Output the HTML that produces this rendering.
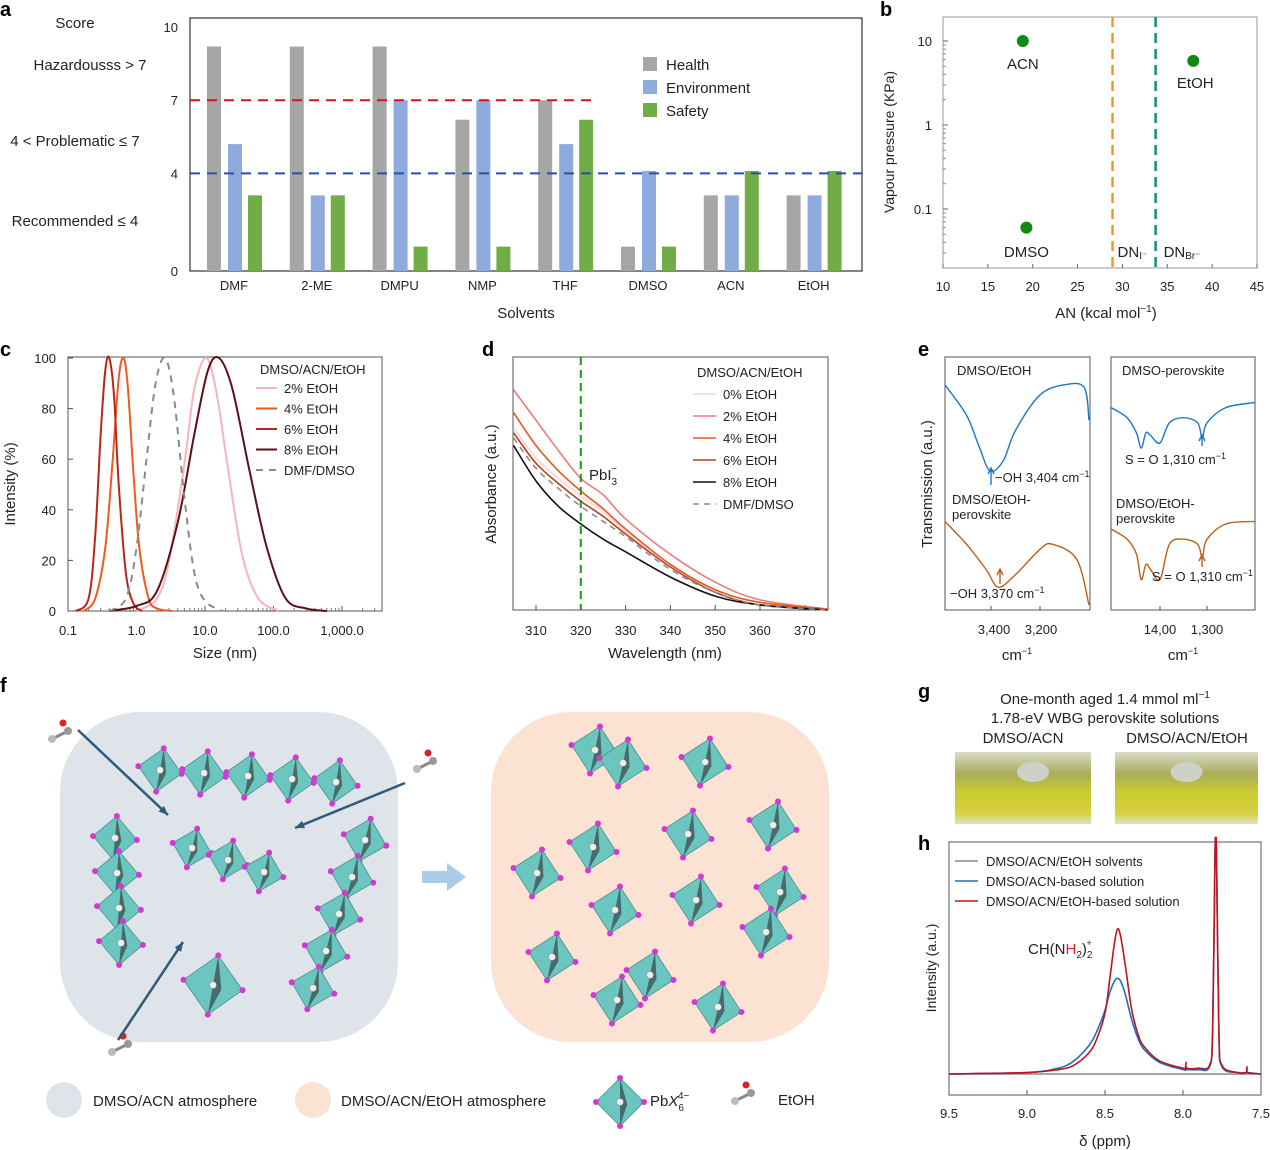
<!DOCTYPE html>
<html><head><meta charset="utf-8"><style>
body{margin:0;background:#fff;}
svg{display:block;font-family:"Liberation Sans",sans-serif;}
text{fill:#222;}
</style></head><body>
<svg id="fig" width="1270" height="1150" viewBox="0 0 1270 1150" xmlns="http://www.w3.org/2000/svg">
<g id="pa"></g>
<g id="pb"></g>
<g id="pc"></g>
<g id="pd"></g>
<g id="pe"></g>
<g id="pf"></g>
<g id="pg"></g>
<g id="ph"></g>
</svg>
<script>
// ---------- data ----------
const solvents=["DMF","2-ME","DMPU","NMP","THF","DMSO","ACN","EtOH"];
const healthScores=[9.2,9.2,9.2,6.2,7,1,3.1,3.1];
const envScores=[5.2,3.1,7,7,5.2,4.1,3.1,3.1];
const safetyScores=[3.1,3.1,1,1,6.2,1,4.1,4.1];
const scoreTicks=[0,4,7,10];

const bNames=["ACN","EtOH","DMSO"];
const bAN=[18.9,37.9,19.3];
const bVP=[10,5.8,0.06];
const bDN=[28.9,33.7];
const bXTicks=[10,15,20,25,30,35,40,45];
const bYTicks=[0.1,1,10];

const cSeriesNames=["2% EtOH","4% EtOH","6% EtOH","8% EtOH","DMF/DMSO"];
const cSize2=[1,2,3,5,7,10.5,15,22,35,60,120];
const cInt2=[0,5,20,58,88,100,85,55,22,5,0];
const cSize4=[0.17,0.25,0.35,0.45,0.55,0.65,0.75,0.9,1.1,1.5,2,3.3];
const cInt4=[0,5,25,60,92,100,88,55,25,5,1,0];
const cSize6=[0.13,0.2,0.25,0.3,0.35,0.4,0.47,0.55,0.7,0.9,1.2];
const cInt6=[0,5,30,70,95,100,85,50,15,3,0];
const cSize8=[0.4,1,2,4,7,11,16,25,45,80,150,300,600];
const cInt8=[0,2,8,35,70,95,100,88,55,25,5,1,0];
const cSizeD=[0.4,0.7,1,1.4,1.9,2.6,3.5,5,7,10,18];
const cIntD=[0,5,25,60,90,100,85,45,15,4,0];
const cXTicks=[0.1,1,10,100,1000];
const cXLabels=["0.1","1.0","10.0","100.0","1,000.0"];
const cYTicks=[0,20,40,60,80,100];

const dWave=[305,310,315,320,325,330,340,350,360,375];
const dAbs0=[0.72,0.60,0.52,0.45,0.39,0.31,0.18,0.08,0.03,0.003];
const dAbs2=[0.87,0.75,0.63,0.52,0.455,0.36,0.22,0.11,0.04,0.004];
const dAbs4=[0.78,0.65,0.55,0.47,0.40,0.32,0.18,0.08,0.03,0.003];
const dAbs6=[0.70,0.58,0.50,0.43,0.37,0.30,0.17,0.07,0.02,0.0];
const dAbs8=[0.65,0.51,0.41,0.34,0.28,0.23,0.13,0.055,0.02,0.0];
const dAbsD=[0.68,0.56,0.48,0.41,0.35,0.29,0.16,0.07,0.02,0.0];
const dXTicks=[310,320,330,340,350,360,370];

const eWaveL=[3588,3500,3450,3404,3350,3300,3200,3100,3020,3000];
const eTransL1=[0.89,0.77,0.65,0.55,0.59,0.71,0.85,0.89,0.88,0.75];
const eWaveL2=[3588,3500,3420,3370,3300,3200,3150,3050,3000];
const eTransL2=[0.35,0.26,0.16,0.09,0.14,0.24,0.26,0.20,0.02];
const eWaveR=[1504,1470,1450,1440,1430,1420,1400,1380,1350,1320,1310,1300,1260,1198];
const eTransR1=[0.80,0.76,0.70,0.64,0.70,0.69,0.66,0.74,0.76,0.74,0.68,0.74,0.80,0.82];
const eTransR2=[0.32,0.28,0.22,0.12,0.18,0.16,0.12,0.26,0.28,0.26,0.21,0.28,0.34,0.35];

const hPpm=[9.5,9.0,8.8,8.7,8.6,8.55,8.5,8.47,8.44,8.42,8.40,8.37,8.33,8.29,8.25,8.15,8.0,7.985,7.98,7.975,7.9,7.83,7.81,7.795,7.79,7.785,7.77,7.75,7.65,7.595,7.59,7.585,7.5];
const hRed=[0,0.01,0.03,0.06,0.15,0.25,0.42,0.65,0.9,1.0,0.95,0.75,0.45,0.28,0.19,0.09,0.04,0.04,0.08,0.04,0.04,0.06,0.3,1.5,2.2,1.5,0.3,0.06,0.01,0.01,0.05,0.01,0];
const hBlue=[0,0.01,0.04,0.09,0.2,0.3,0.44,0.56,0.64,0.66,0.64,0.55,0.38,0.25,0.17,0.08,0.03,0.03,0.03,0.03,0.03,0.05,0.3,1.5,2.2,1.5,0.3,0.05,0.01,0.01,0.01,0.01,0];
const hXTicks=[9.5,9.0,8.5,8.0,7.5];

// ---------- helpers ----------
const NS="http://www.w3.org/2000/svg";
function mk(parent,tag,attrs,txt){const e=document.createElementNS(NS,tag);for(const k in attrs)e.setAttribute(k,attrs[k]);if(txt!==undefined)e.textContent=txt;parent.appendChild(e);return e;}
function T(p,x,y,s,size,anchor,name,extra){const e=mk(p,"text",Object.assign({x:x,y:y,"font-size":size||14,"text-anchor":anchor||"middle"},extra||{}),s);

return e;}
function smooth(pts){let d="M"+pts[0][0]+","+pts[0][1];for(let i=0;i<pts.length-1;i++){const p0=pts[Math.max(i-1,0)],p1=pts[i],p2=pts[i+1],p3=pts[Math.min(i+2,pts.length-1)];
const c1x=p1[0]+(p2[0]-p0[0])/6,c1y=p1[1]+(p2[1]-p0[1])/6,c2x=p2[0]-(p3[0]-p1[0])/6,c2y=p2[1]-(p3[1]-p1[1])/6;d+=" C"+c1x+","+c1y+" "+c2x+","+c2y+" "+p2[0]+","+p2[1];}return d;}
function poly(pts){return "M"+pts.map(p=>p[0]+","+p[1]).join(" L");}
function panelLetter(p,ch,x,y){const t=T(p,x,y,ch,20,"start","panel-letter-"+ch,{"font-weight":"bold"});t.style.fill="#000";}

// ---------- panel a ----------
(function(){const g=document.getElementById("pa");
const x0=190,x1=862,yT=18,yB=271;const ya=v=>yB-v*24.4;const gx=i=>234+i*82.8;
panelLetter(g,"a",0,16);
T(g,75,28,"Score",15,"middle","score-title");
T(g,90,70,"Hazardousss > 7",15,"middle","hazardous-label");
T(g,75,146,"4 < Problematic ≤ 7",15,"middle","problematic-label");
T(g,75,226,"Recommended ≤ 4",15,"middle","recommended-label");
mk(g,"rect",{x:x0,y:yT,width:x1-x0,height:yB-yT,fill:"none",stroke:"#333","stroke-width":1.2});
scoreTicks.forEach(v=>{T(g,178,ya(v)+5,String(v),13,"end","y-tick-label");});
const series=[[healthScores,"#a6a6a6",-20,"health"],[envScores,"#8faadc",1,"environment"],[safetyScores,"#70ad47",21,"safety"]];
solvents.forEach((s,i)=>{series.forEach(sr=>{const r=mk(g,"rect",{x:gx(i)+sr[2]-7,y:ya(sr[0][i]),width:14,height:sr[0][i]*24.4,fill:sr[1]});

});
T(g,gx(i),290,s,13,"middle","x-tick-label");});
let l=mk(g,"line",{x1:x0,x2:592,y1:ya(7),y2:ya(7),stroke:"#d11",  "stroke-width":2,"stroke-dasharray":"10,7"});

l=mk(g,"line",{x1:x0,x2:x1,y1:ya(4),y2:ya(4),stroke:"#2f4f9a","stroke-width":2,"stroke-dasharray":"10,7"});

[["Health","#a6a6a6"],["Environment","#8faadc"],["Safety","#70ad47"]].forEach((e,i)=>{const r=mk(g,"rect",{x:643,y:57+i*23,width:14,height:14,fill:e[1]});

T(g,666,70+i*23,e[0],15,"start","legend-entry");});
T(g,526,318,"Solvents",15,"middle","x-axis-title");
})();

// ---------- panel b ----------
(function(){const g=document.getElementById("pb");
const x0=943,x1=1257,yT=17,yB=268;const xa=v=>x0+(v-10)*8.97;const ya=v=>125-Math.log10(v)*84;
panelLetter(g,"b",880,16);
mk(g,"rect",{x:x0,y:yT,width:x1-x0,height:yB-yT,fill:"none",stroke:"#999","stroke-width":1});
bXTicks.forEach(v=>{mk(g,"line",{x1:xa(v),x2:xa(v),y1:yB,y2:yB-4,stroke:"#666"});T(g,xa(v),291,String(v),13,"middle","x-tick-label");});
bYTicks.forEach(v=>{mk(g,"line",{x1:x0,x2:x0+5,y1:ya(v),y2:ya(v),stroke:"#666"});T(g,932,ya(v)+5,String(v),13,"end","y-tick-label");});
[0.03,0.04,0.05,0.06,0.07,0.08,0.09,0.2,0.3,0.4,0.5,0.6,0.7,0.8,0.9,2,3,4,5,6,7,8,9,20].forEach(v=>{const y=ya(v);if(y>yT&&y<yB)mk(g,"line",{x1:x0,x2:x0+3,y1:y,y2:y,stroke:"#888"});});
const dc=["#f7962f","#148a80"];
bDN.forEach((v,i)=>{const l=mk(g,"line",{x1:xa(v),x2:xa(v),y1:yT,y2:yB,stroke:dc[i],"stroke-width":2.5,"stroke-dasharray":"10,6"});
});
T(g,xa(bDN[0])+5,257,"DN",15,"start","dn-i-label").innerHTML='DN<tspan font-size="10" dy="2">I⁻</tspan>';
T(g,xa(bDN[1])+8,257,"DN",15,"start","dn-br-label").innerHTML='DN<tspan font-size="10" dy="2">Br⁻</tspan>';
const lblY=[69,88,257];
bNames.forEach((n,i)=>{const c=mk(g,"circle",{cx:xa(bAN[i]),cy:ya(bVP[i]),r:6,fill:"#108a10"});

T(g,xa(bAN[i])+(i==1?2:0),lblY[i],n,15,"middle","point-label");});
T(g,1106,318,"AN (kcal mol",15,"middle","x-axis-title").innerHTML='AN (kcal mol<tspan font-size="10" dy="-6">−1</tspan><tspan dy="6">)</tspan>';
T(g,0,0,"Vapour pressure (KPa)",14,"middle","y-axis-title",{transform:"translate(894,142) rotate(-90)"});
})();

// ---------- panel c ----------
(function(){const g=document.getElementById("pc");
const x0=68,x1=382,yT=357,yB=611;const xa=v=>x0+Math.log10(v/0.1)*68.5;const ya=v=>yB-v*2.53;
panelLetter(g,"c",0,356);
mk(g,"rect",{x:x0,y:yT,width:x1-x0,height:yB-yT,fill:"none",stroke:"#555","stroke-width":1});
cXTicks.forEach((v,i)=>{mk(g,"line",{x1:xa(v),x2:xa(v),y1:yB,y2:yB-5,stroke:"#555"});T(g,xa(v),635,cXLabels[i],13,"middle","x-tick-label");
for(let k=2;k<10;k++){const x=xa(v*k);if(x<x1)mk(g,"line",{x1:x,x2:x,y1:yB,y2:yB-3,stroke:"#777"});}});
cYTicks.forEach(v=>{mk(g,"line",{x1:x0,x2:x0+5,y1:ya(v),y2:ya(v),stroke:"#555"});T(g,56,ya(v)+5,String(v),13,"end","y-tick-label");});
const ser=[[cSize2,cInt2,"#f9b3bc",""],[cSize4,cInt4,"#f05a1e",""],[cSize6,cInt6,"#b8261b",""],[cSize8,cInt8,"#5a1016",""],[cSizeD,cIntD,"#8a8a8a","7,6"]];
ser.forEach((s,i)=>{const pts=s[0].map((v,j)=>[xa(v),ya(s[1][j])]);const p=mk(g,"path",{d:smooth(pts),fill:"none",stroke:s[2],"stroke-width":2,"stroke-dasharray":s[3]});
});
T(g,260,374,"DMSO/ACN/EtOH",13,"start","legend-title");
ser.forEach((s,i)=>{mk(g,"line",{x1:256,x2:277,y1:388+i*20.5,y2:388+i*20.5,stroke:s[2],"stroke-width":2,"stroke-dasharray":s[3]});T(g,284,393+i*20.5,cSeriesNames[i],13,"start","legend-entry");});
T(g,225,658,"Size (nm)",15,"middle","x-axis-title");
T(g,0,0,"Intensity (%)",15,"middle","y-axis-title",{transform:"translate(15,484) rotate(-90)"});
})();

// ---------- panel d ----------
(function(){const g=document.getElementById("pd");
const x0=513,x1=828,yT=357,yB=610;const xa=v=>536+(v-310)*4.48;const ya=v=>yB-v*253;
panelLetter(g,"d",482,356);
mk(g,"rect",{x:x0,y:yT,width:x1-x0,height:yB-yT,fill:"none",stroke:"#555","stroke-width":1});
dXTicks.forEach(v=>{mk(g,"line",{x1:xa(v),x2:xa(v),y1:yB,y2:yB-5,stroke:"#555"});T(g,xa(v),635,String(v),13,"middle","x-tick-label");});
const names=["0% EtOH","2% EtOH","4% EtOH","6% EtOH","8% EtOH","DMF/DMSO"];
const ser=[[dAbs0,"#fbd3d3",""],[dAbs2,"#f07a7a",""],[dAbs4,"#e8561f",""],[dAbs6,"#b8401e",""],[dAbs8,"#111",""],[dAbsD,"#8a8a8a","6,5"]];
ser.forEach((s,i)=>{const pts=dWave.map((v,j)=>[xa(v),ya(s[0][j])]);const p=mk(g,"path",{d:smooth(pts),fill:"none",stroke:s[1],"stroke-width":1.6,"stroke-dasharray":s[2]});
});
const l=mk(g,"line",{x1:xa(320),x2:xa(320),y1:yT,y2:yB,stroke:"#1a9a1a","stroke-width":2,"stroke-dasharray":"8,5"});

T(g,589,480,"PbI",15,"start","pbi3-label").innerHTML='PbI<tspan font-size="10" dy="5">3</tspan><tspan font-size="10" dx="-6" dy="-13">−</tspan>';
T(g,697,377,"DMSO/ACN/EtOH",13,"start","legend-title");
ser.forEach((s,i)=>{mk(g,"line",{x1:693,x2:716,y1:394+i*22,y2:394+i*22,stroke:s[1],"stroke-width":1.6,"stroke-dasharray":s[2]});T(g,723,399+i*22,names[i],13,"start","legend-entry");});
T(g,665,658,"Wavelength (nm)",15,"middle","x-axis-title");
T(g,0,0,"Absorbance (a.u.)",15,"middle","y-axis-title",{transform:"translate(496,484) rotate(-90)"});
})();

// ---------- panel e ----------
(function(){const g=document.getElementById("pe");
panelLetter(g,"e",918,356);
const yT=357,yB=610;const ya=v=>yB-v*253;
const xl=v=>991-(v-3400)*0.245;const xr=v=>1160-(v-1400)*0.47;
mk(g,"rect",{x:945,y:yT,width:145,height:yB-yT,fill:"none",stroke:"#555"});
mk(g,"rect",{x:1111,y:yT,width:144,height:yB-yT,fill:"none",stroke:"#555"});
[[eWaveL,eTransL1,xl,"#1f77c0","ftir-dmso-etoh"],[eWaveL2,eTransL2,xl,"#b8601c","ftir-dmso-etoh-perovskite"],[eWaveR,eTransR1,xr,"#1f77c0","ftir-dmso-perovskite"],[eWaveR,eTransR2,xr,"#b8601c","ftir-dmso-etoh-perovskite-r"]].forEach(s=>{
const pts=s[0].map((v,j)=>[s[2](v),ya(s[1][j])]);const p=mk(g,"path",{d:smooth(pts),fill:"none",stroke:s[3],"stroke-width":1.4});
});
[3400,3200].forEach(v=>{mk(g,"line",{x1:xl(v),x2:xl(v),y1:yB,y2:yB-4,stroke:"#555"});});
[1400,1300].forEach(v=>{mk(g,"line",{x1:xr(v),x2:xr(v),y1:yB,y2:yB-4,stroke:"#555"});});
T(g,994,634,"3,400",13,"middle","x-tick-label");T(g,1041,634,"3,200",13,"middle","x-tick-label");
T(g,1160,634,"14,00",13,"middle","x-tick-label");T(g,1207,634,"1,300",13,"middle","x-tick-label");
T(g,957,375,"DMSO/EtOH",13,"start","trace-label");T(g,1122,375,"DMSO-perovskite",13,"start","trace-label");
T(g,952,504,"DMSO/EtOH-",13,"start","trace-label");T(g,952,519,"perovskite",13,"start","trace-label");
T(g,1116,508,"DMSO/EtOH-",13,"start","trace-label");T(g,1116,523,"perovskite",13,"start","trace-label");
T(g,995,482,"",13,"start","oh-3404-label").innerHTML='−OH 3,404 cm<tspan font-size="9" dy="-5">−1</tspan>';
T(g,950,598,"",13,"start","oh-3370-label").innerHTML='−OH 3,370 cm<tspan font-size="9" dy="-5">−1</tspan>';
T(g,1125,464,"",13,"start","so-label").innerHTML='S = O 1,310 cm<tspan font-size="9" dy="-5">−1</tspan>';
T(g,1152,581,"",13,"start","so-label-2").innerHTML='S = O 1,310 cm<tspan font-size="9" dy="-5">−1</tspan>';
mk(g,"path",{d:"M991,485 V470 M988,474 L991,468 L994,474",stroke:"#1f77c0",fill:"none","stroke-width":1.4});
mk(g,"path",{d:"M1000,584 V570 M997,575 L1000,569 L1003,575",stroke:"#b8601c",fill:"none","stroke-width":1.4});
mk(g,"path",{d:"M1202,446 V436 M1199,441 L1202,435 L1205,441",stroke:"#1f77c0",fill:"none","stroke-width":1.4});
mk(g,"path",{d:"M1202,567 V556 M1199,561 L1202,555 L1205,561",stroke:"#b8601c",fill:"none","stroke-width":1.4});
T(g,1017,660,"",15,"middle","x-axis-title-left").innerHTML='cm<tspan font-size="9" dy="-6">−1</tspan>';
T(g,1183,660,"",15,"middle","x-axis-title-right").innerHTML='cm<tspan font-size="9" dy="-6">−1</tspan>';
T(g,0,0,"Transmission (a.u.)",15,"middle","y-axis-title",{transform:"translate(932,484) rotate(-90)"});
})();

// ---------- panel f (illustration) ----------
(function(){const g=document.getElementById("pf");
panelLetter(g,"f",0,692);
let r=mk(g,"rect",{x:60,y:712,width:338,height:330,rx:80,fill:"#dfe4ea"});
r=mk(g,"rect",{x:491,y:712,width:338,height:330,rx:80,fill:"#fbe2d3"});
mk(g,"path",{d:"M422,871 H447 V863 L466,877 L447,891 V883 H422 Z",fill:"#a9cce8"});
function octa(cx,cy,s,rot){const gg=mk(g,"g",{transform:`translate(${cx},${cy}) rotate(${rot||0})`});
mk(gg,"polygon",{points:`0,${-s} ${s},0 0,${s} ${-s},0`,fill:"#6cc6c0",stroke:"#4a8f8c","stroke-width":0.8});
mk(gg,"polygon",{points:`0,${-s} ${s*0.3},${s*0.1} 0,${s}`,fill:"#3f5a5a",opacity:0.85});
mk(gg,"circle",{cx:0,cy:0,r:3.5,fill:"#eee",stroke:"#888","stroke-width":0.5});
[[0,-s],[s,0],[0,s],[-s,0]].forEach(p=>mk(gg,"circle",{cx:p[0],cy:p[1],r:3,fill:"#d03ad0"}));}
function chain(x,y,dx,dy,n,s,rot){for(let i=0;i<n;i++)octa(x+i*dx,y+i*dy,s,rot);}
chain(160,770,44,3,5,22,10);chain(115,838,2,35,4,22,5);chain(192,848,36,12,3,20,15);chain(213,985,0,0,1,30,10);
chain(365,840,-13,37,5,22,15);
[[595,750],[623,763],[705,762],[593,847],[688,834],[773,825],[537,873],[615,910],[696,900],[780,892],[766,932],[552,957],[650,975],[617,1000],[718,1007]].forEach(p=>octa(p[0],p[1],24,12));
[[60,735],[425,765],[120,1048],[743,1097]].forEach(p=>{const gg=mk(g,"g",{transform:`translate(${p[0]},${p[1]})`});
mk(gg,"line",{x1:-8,y1:4,x2:8,y2:-4,stroke:"#888","stroke-width":3});mk(gg,"circle",{cx:-8,cy:4,r:4,fill:"#bbb"});mk(gg,"circle",{cx:8,cy:-4,r:4,fill:"#999"});mk(gg,"circle",{cx:3,cy:-12,r:3.5,fill:"#d22"});});
[[78,730,168,815],[405,783,295,828],[118,1040,183,942]].forEach(a=>{mk(g,"line",{x1:a[0],y1:a[1],x2:a[2],y2:a[3],stroke:"#2f5b78","stroke-width":2.5});
const ang=Math.atan2(a[3]-a[1],a[2]-a[0]);const L=10;mk(g,"polygon",{points:`${a[2]},${a[3]} ${a[2]-L*Math.cos(ang-0.4)},${a[3]-L*Math.sin(ang-0.4)} ${a[2]-L*Math.cos(ang+0.4)},${a[3]-L*Math.sin(ang+0.4)}`,fill:"#2f5b78"});});
mk(g,"circle",{cx:64,cy:1100,r:18,fill:"#dfe4ea"});T(g,93,1106,"DMSO/ACN atmosphere",15,"start","legend-entry");
mk(g,"circle",{cx:313,cy:1100,r:18,fill:"#fbe2d3"});T(g,341,1106,"DMSO/ACN/EtOH atmosphere",15,"start","legend-entry");
octa(620,1102,24,0);
T(g,650,1106,"",15,"start","legend-pbx6").innerHTML='Pb<tspan font-style="italic">X</tspan><tspan font-size="10" dy="5">6</tspan><tspan font-size="10" dx="-6" dy="-12">4−</tspan>';
T(g,778,1105,"EtOH",15,"start","legend-etoh");
})();

// ---------- panel g ----------
(function(){const g=document.getElementById("pg");
panelLetter(g,"g",918,698);
T(g,1105,704,"",15,"middle","g-title-1").innerHTML='One-month aged 1.4 mmol ml<tspan font-size="10" dy="-6">−1</tspan>';
T(g,1105,723,"1.78-eV WBG perovskite solutions",15,"middle","g-title-2");
T(g,1023,743,"DMSO/ACN",15,"middle","photo-label");T(g,1187,743,"DMSO/ACN/EtOH",15,"middle","photo-label");
const defs=mk(g,"defs",{});const lg=mk(defs,"linearGradient",{id:"vial",x1:0,y1:0,x2:0,y2:1});
[[0,"#d9dcc8"],[0.3,"#a9ac58"],[0.55,"#c8cc30"],[0.85,"#d8d040"],[1,"#e0e0c8"]].forEach(s=>mk(lg,"stop",{offset:s[0],"stop-color":s[1]}));
[[955,136],[1115,143]].forEach((p,i)=>{const r=mk(g,"rect",{x:p[0],y:752,width:p[1],height:72,fill:"url(#vial)"});

mk(g,"ellipse",{cx:p[0]+p[1]/2+(i?0:10),cy:772,rx:16,ry:10,fill:"#cfd0c8"});});
})();

// ---------- panel h ----------
(function(){const g=document.getElementById("ph");
panelLetter(g,"h",918,850);
const x0=949,x1=1261,yT=842,yB=1095,base=1074;const xa=v=>x0+(9.5-v)*156;const ya=v=>Math.max(yT,base-v*145);
mk(g,"rect",{x:x0,y:yT,width:x1-x0,height:yB-yT,fill:"none",stroke:"#555"});
hXTicks.forEach(v=>{mk(g,"line",{x1:xa(v),x2:xa(v),y1:yB,y2:yB-5,stroke:"#555"});T(g,xa(v),1118,v.toFixed(1),13,"middle","x-tick-label");});
let l=mk(g,"line",{x1:x0,x2:x1,y1:base,y2:base,stroke:"#888","stroke-width":1.4});
[[hBlue,"#1f6fc0","dmso-acn-solution"],[hRed,"#c0141c","dmso-acn-etoh-solution"]].forEach(s=>{const pts=hPpm.map((v,j)=>[xa(v),ya(s[0][j])]);
const p=mk(g,"path",{d:smooth(pts),fill:"none",stroke:s[1],"stroke-width":1.6,"stroke-linejoin":"round"});});
[["DMSO/ACN/EtOH solvents","#888"],["DMSO/ACN-based solution","#1f6fc0"],["DMSO/ACN/EtOH-based solution","#c0141c"]].forEach((e,i)=>{mk(g,"line",{x1:955,x2:978,y1:861+i*20,y2:861+i*20,stroke:e[1],"stroke-width":1.6});T(g,986,866+i*20,e[0],13,"start","legend-entry");});
T(g,1028,954,"",15,"start","fa-label").innerHTML='CH(N<tspan fill="#e02020">H</tspan><tspan font-size="10" dy="4">2</tspan><tspan dy="-4">)</tspan><tspan font-size="10" dy="4">2</tspan><tspan font-size="9" dx="-6" dy="-12">+</tspan>';
T(g,1105,1146,"δ (ppm)",15,"middle","x-axis-title");
T(g,0,0,"Intensity (a.u.)",14,"middle","y-axis-title",{transform:"translate(936,968) rotate(-90)"});
})();
</script>
</body></html>
